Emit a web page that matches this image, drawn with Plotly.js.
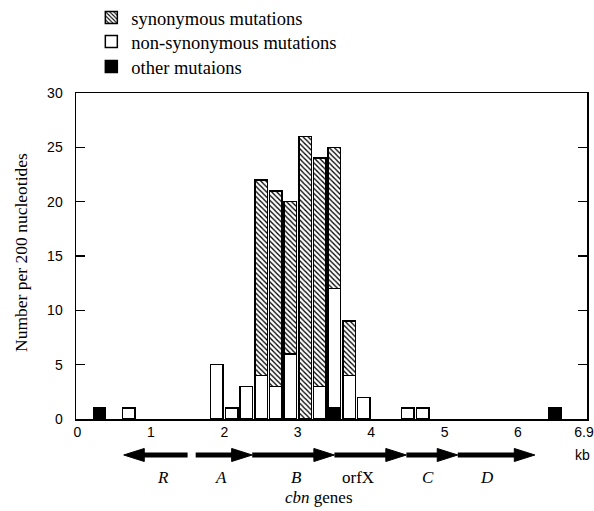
<!DOCTYPE html>
<html><head><meta charset="utf-8">
<script src="https://cdn.plot.ly/plotly-3.0.1.min.js"></script>
<style>html,body{margin:0;padding:0;background:#fff}</style>
</head><body><div id="chart" style="width:594px;height:511px"></div>
<script>
// bin centres (kb) of 200-nucleotide windows that contain mutations
const binCenters = [0.3, 0.7, 1.9, 2.1, 2.3, 2.5, 2.7, 2.9, 3.1, 3.3, 3.5, 3.7, 3.9, 4.5, 4.7, 6.5];
const otherMut   = [1, null, null, null, null, null, null, null, null, null, 1, null, null, null, null, 1];
const nonSynMut  = [null, 1, 5, 1, 3, 4, 3, 6, null, 3, 11, 4, 2, 1, 1, null];
const synMut     = [null, null, null, null, null, 18, 18, 14, 26, 21, 13, 5, null, null, null, null];

const xTickVals = [0, 1, 2, 3, 4, 5, 6, 6.9];
const xTickText = ['0', '1', '2', '3', '4', '5', '6', '6.9'];

// cbn genes (kb): start -> end gives direction
const geneNames  = ['<i>R</i>', '<i>A</i>', '<i>B</i>', 'orfX', '<i>C</i>', '<i>D</i>'];
const geneStart  = [1.50, 1.61, 2.38, 3.50, 4.48, 5.18];
const geneEnd    = [0.63, 2.38, 3.50, 4.48, 5.18, 6.23];
const geneLabelX = [1.17, 1.95, 2.99, 3.82, 4.78, 5.58];

const serif = 'Liberation Serif, Times New Roman, serif';
const sans = 'Liberation Sans, Arial, Helvetica, sans-serif';
const barLine = {color: '#000', width: 1.5};
const barW = 0.17;

const traces = [
  {type: 'bar', name: 'other mutaions', x: binCenters, y: otherMut, width: barW, legend: 'legend3',
   marker: {color: '#000', line: barLine}},
  {type: 'bar', name: 'non-synonymous mutations', x: binCenters, y: nonSynMut, width: barW, legend: 'legend2',
   marker: {color: '#fff', line: barLine}},
  {type: 'bar', name: 'synonymous mutations', x: binCenters, y: synMut, width: barW, legend: 'legend',
   marker: {color: '#fff', line: barLine,
            pattern: {shape: '\\', fgcolor: '#000', bgcolor: '#fff', size: 3.6, solidity: 0.36}}}
];

const shapes = [];
const annotations = [];
const yc = -0.1104, hh = 0.020, headLen = 0.28;
for (let i = 0; i < geneNames.length; i++) {
  const s = geneStart[i], e = geneEnd[i];
  const d = Math.sign(e - s);
  const hb = e - d * headLen;
  shapes.push({type: 'line', xref: 'x', yref: 'paper', x0: s, x1: hb + d * 0.02, y0: yc, y1: yc,
               line: {color: '#000', width: 5}});
  shapes.push({type: 'path', xref: 'x', yref: 'paper',
               path: `M${e},${yc} L${hb},${yc + hh} L${hb},${yc - hh} Z`,
               fillcolor: '#000', line: {color: '#000', width: 1}});
  annotations.push({xref: 'x', yref: 'paper', x: geneLabelX[i], y: -0.178, text: geneNames[i],
                    xanchor: 'center', yanchor: 'middle',
                    showarrow: false, font: {family: serif, size: 17, color: '#000'}});
}
annotations.push({xref: 'paper', yref: 'paper', x: 0.476, y: -0.242, text: '<i>cbn</i> genes',
                  xanchor: 'center', yanchor: 'middle',
                  showarrow: false, font: {family: serif, size: 17, color: '#000'}});
annotations.push({xref: 'paper', yref: 'paper', x: 0.992, y: -0.1104, text: 'kb',
                  xanchor: 'center', yanchor: 'middle',
                  showarrow: false, font: {family: sans, size: 14, color: '#000'}});
annotations.push({xref: 'paper', yref: 'paper', x: -0.108, y: 0.512, text: 'Number per 200 nucleotides',
                  xanchor: 'center', yanchor: 'middle',
                  textangle: -90, showarrow: false, font: {family: serif, size: 17.5, color: '#000'}});

const legFont = {family: serif, size: 18.5, color: '#000'};
const legBase = {x: 0.03, xanchor: 'left', yanchor: 'middle', yref: 'container',
                 bgcolor: 'rgba(0,0,0,0)', font: legFont};

const layout = {
  width: 594, height: 511,
  margin: {l: 76, r: 7, t: 93, b: 92, autoexpand: false},
  paper_bgcolor: '#fff', plot_bgcolor: '#fff',
  font: {family: serif, size: 17, color: '#000'},
  barmode: 'stack',
  showlegend: true,
  legend: Object.assign({}, legBase, {y: 0.9648}),
  legend2: Object.assign({}, legBase, {y: 0.9178}),
  legend3: Object.assign({}, legBase, {y: 0.8689}),
  xaxis: {range: [-0.02, 6.94], tickvals: xTickVals, ticktext: xTickText, ticks: '',
          ticklabeloverflow: 'allow',
          showgrid: false, zeroline: false, showline: true, mirror: true,
          linecolor: '#000', linewidth: 1.5, tickfont: {family: sans, size: 14, color: '#000'}},
  yaxis: {range: [0, 30], dtick: 5, ticks: 'inside', ticklen: 9, tickwidth: 1.2, tickcolor: '#000',
          showgrid: false, zeroline: false, showline: true, mirror: 'ticks',
          linecolor: '#000', linewidth: 1.5, ticklabelstandoff: 9,
          tickfont: {family: sans, size: 14, color: '#000'}},
  shapes: shapes,
  annotations: annotations
};

Plotly.newPlot('chart', traces, layout, {displayModeBar: false, staticPlot: true});
</script>
</body></html>
